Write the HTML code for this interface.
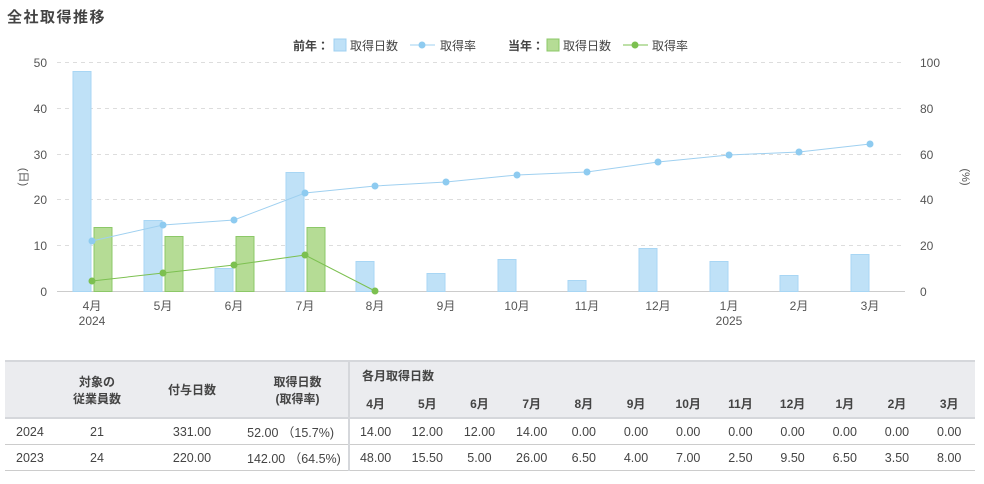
<!DOCTYPE html>
<html><head><meta charset="utf-8"><style>
body{margin:0;width:984px;height:484px;background:#fff;font-family:"Liberation Sans","Noto Sans CJK JP",sans-serif;color:#333;position:relative;overflow:hidden}
.t{position:absolute;left:7px;top:6px;font-size:15px;font-weight:bold;letter-spacing:1.5px;color:#444}
svg{position:absolute;left:0;top:0}
table{position:absolute;left:5px;top:360px;width:970px;border-collapse:collapse;font-size:12.5px;color:#444;table-layout:fixed}
th{background:#ebecef;font-weight:bold;font-size:12px}
td,th{padding:0;text-align:center;white-space:nowrap}
tr.r td{height:25px;border-bottom:1px solid #ccc}
.h1{border-top:2px solid #d5d7db}
.h2{border-bottom:2px solid #d5d7db}
</style></head><body>
<div class="t">全社取得推移</div>
<svg width="984" height="360" font-family="Liberation Sans, Noto Sans CJK JP, sans-serif">
<g stroke="#ddd" stroke-dasharray="4,4">
<line x1="57" x2="905" y1="62.5" y2="62.5"/><line x1="57" x2="905" y1="108.5" y2="108.5"/><line x1="57" x2="905" y1="154.5" y2="154.5"/><line x1="57" x2="905" y1="199.5" y2="199.5"/><line x1="57" x2="905" y1="245.5" y2="245.5"/>
</g>
<line x1="57" x2="905" y1="291.5" y2="291.5" stroke="#ccc"/>
<g font-size="12" fill="#555" text-anchor="end">
<text x="47" y="67">50</text><text x="47" y="113">40</text><text x="47" y="159">30</text><text x="47" y="204">20</text><text x="47" y="250">10</text><text x="47" y="296">0</text>
</g>
<g font-size="12" fill="#555" text-anchor="start">
<text x="920" y="67">100</text><text x="920" y="113">80</text><text x="920" y="159">60</text><text x="920" y="204">40</text><text x="920" y="250">20</text><text x="920" y="296">0</text>
</g>
<text x="20" y="177" font-size="11" fill="#555" transform="rotate(90 20 177)" text-anchor="middle">(日)</text>
<text x="962" y="177" font-size="11" fill="#555" transform="rotate(90 962 177)" text-anchor="middle">(%)</text>
<g font-size="12" fill="#444">
<text x="293" y="50" font-weight="bold">前年：</text>
<rect x="334" y="39" width="12" height="12" fill="#bfe1f7" stroke="#9fd0f0"/>
<text x="350" y="50">取得日数</text>
<line x1="410" x2="435" y1="45" y2="45" stroke="#9fd0f0"/><circle cx="422" cy="45" r="3.5" fill="#8ecbf0"/>
<text x="440" y="50">取得率</text>
<text x="508" y="50" font-weight="bold">当年：</text>
<rect x="547" y="39" width="12" height="12" fill="#b5dc95" stroke="#8cc868"/>
<text x="563" y="50">取得日数</text>
<line x1="623" x2="648" y1="45" y2="45" stroke="#7cc050"/><circle cx="635" cy="45" r="3.5" fill="#7cc050"/>
<text x="652" y="50">取得率</text>
</g>
<g fill="#bfe1f7" stroke="#a8d6f4">
<rect x="73" y="71.5" width="18" height="220"/>
<rect x="144" y="220.5" width="18" height="71"/>
<rect x="215" y="268.5" width="18" height="23"/>
<rect x="286" y="172.5" width="18" height="119"/>
<rect x="356" y="261.5" width="18" height="30"/>
<rect x="427" y="273.5" width="18" height="18"/>
<rect x="498" y="259.5" width="18" height="32"/>
<rect x="568" y="280.5" width="18" height="11"/>
<rect x="639" y="248.5" width="18" height="43"/>
<rect x="710" y="261.5" width="18" height="30"/>
<rect x="780" y="275.5" width="18" height="16"/>
<rect x="851" y="254.5" width="18" height="37"/>
</g>
<g fill="#b5dc95" stroke="#8cc868">
<rect x="94" y="227.5" width="18" height="64"/>
<rect x="165" y="236.5" width="18" height="55"/>
<rect x="236" y="236.5" width="18" height="55"/>
<rect x="307" y="227.5" width="18" height="64"/>
</g>
<polyline fill="none" stroke="#9fd0f0" points="92,241 163,225 234,220 305,193 375,186 446,182 517,175 587,172 658,162 729,155 799,152 870,144"/>
<g fill="#8ecbf0"><circle cx="92" cy="241" r="3.5"/><circle cx="163" cy="225" r="3.5"/><circle cx="234" cy="220" r="3.5"/><circle cx="305" cy="193" r="3.5"/><circle cx="375" cy="186" r="3.5"/><circle cx="446" cy="182" r="3.5"/><circle cx="517" cy="175" r="3.5"/><circle cx="587" cy="172" r="3.5"/><circle cx="658" cy="162" r="3.5"/><circle cx="729" cy="155" r="3.5"/><circle cx="799" cy="152" r="3.5"/><circle cx="870" cy="144" r="3.5"/></g>
<polyline fill="none" stroke="#7cc050" points="92,281 163,273 234,265 305,255 375,291"/>
<g fill="#7cc050"><circle cx="92" cy="281" r="3.5"/><circle cx="163" cy="273" r="3.5"/><circle cx="234" cy="265" r="3.5"/><circle cx="305" cy="255" r="3.5"/><circle cx="375" cy="291" r="3.5"/></g>
<g font-size="12" fill="#555" text-anchor="middle">
<text x="92" y="310">4月</text><text x="92" y="325">2024</text>
<text x="163" y="310">5月</text><text x="234" y="310">6月</text><text x="305" y="310">7月</text><text x="375" y="310">8月</text><text x="446" y="310">9月</text><text x="517" y="310">10月</text><text x="587" y="310">11月</text><text x="658" y="310">12月</text><text x="729" y="310">1月</text><text x="729" y="325">2025</text><text x="799" y="310">2月</text><text x="870" y="310">3月</text>
</g>
</svg>
<table>
<colgroup><col style="width:52px"><col style="width:80px"><col style="width:110px"><col style="width:102px"><col span="12" style="width:52.2px"></colgroup>
<tr class="h1"><th rowspan="2" class="h2" style="height:55px"></th><th rowspan="2" class="h2">対象の<br>従業員数</th><th rowspan="2" class="h2">付与日数</th><th rowspan="2" class="h2" style="border-right:2px solid #d5d7db">取得日数<br>(取得率)</th><th colspan="12" style="text-align:left;padding-left:12px;height:27px">各月取得日数</th></tr>
<tr class="h2"><th style="height:27px">4月</th><th>5月</th><th>6月</th><th>7月</th><th>8月</th><th>9月</th><th>10月</th><th>11月</th><th>12月</th><th>1月</th><th>2月</th><th>3月</th></tr>
<tr class="r"><td style="text-align:left;padding-left:11px">2024</td><td>21</td><td>331.00</td><td style="border-right:2px solid #d5d7db;text-align:right;padding-right:14px">52.00 （15.7%)</td><td>14.00</td><td>12.00</td><td>12.00</td><td>14.00</td><td>0.00</td><td>0.00</td><td>0.00</td><td>0.00</td><td>0.00</td><td>0.00</td><td>0.00</td><td>0.00</td></tr>
<tr class="r"><td style="text-align:left;padding-left:11px">2023</td><td>24</td><td>220.00</td><td style="border-right:2px solid #d5d7db;text-align:right;padding-right:12px">142.00 （64.5%)</td><td>48.00</td><td>15.50</td><td>5.00</td><td>26.00</td><td>6.50</td><td>4.00</td><td>7.00</td><td>2.50</td><td>9.50</td><td>6.50</td><td>3.50</td><td>8.00</td></tr>
</table>
</body></html>
